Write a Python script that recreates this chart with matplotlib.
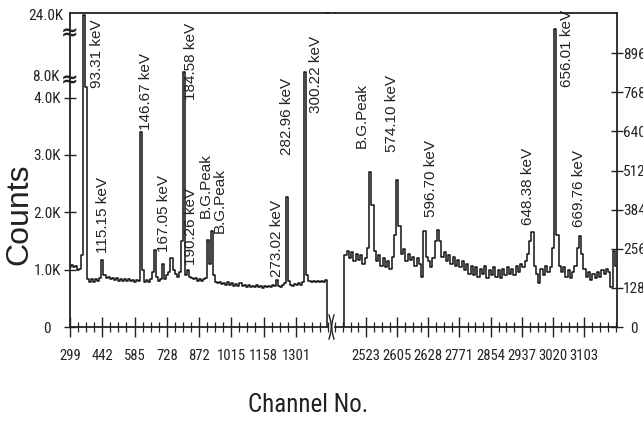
import numpy as np
import matplotlib
matplotlib.use("Agg")
import matplotlib.pyplot as plt
from matplotlib.lines import Line2D
from matplotlib import font_manager

# ---------------- data ----------------
# left segment: channels 299.. step 9, counts (left axis)
left_start, left_step = 299, 9
left_counts = [
    1050, 1080, 1040, 1070, 990, 1010, 1250, 24300, 6000, 830,
    790, 840, 780, 830, 800, 860, 1170, 900, 850, 880,
    830, 860, 820, 850, 810, 840, 800, 830, 810, 840,
    800, 820, 790, 820, 810, 3400, 1000, 790, 820, 780,
    830, 950, 1340, 880, 800, 830, 1100, 830, 900, 950,
    1200, 1000, 920, 880, 950, 1500, 9300, 900, 1000, 880,
    860, 830, 850, 810, 840, 800, 830, 850, 1520, 1100,
    1680, 900, 780, 760, 790, 750, 770, 740, 780, 730,
    760, 720, 750, 710, 760, 720, 740, 700, 730, 690,
    720, 700, 730, 690, 720, 680, 710, 690, 720, 700,
    730, 710, 820, 720, 700, 730, 760, 2270, 800, 740,
    720, 750, 730, 760, 740, 780, 9300, 900, 800, 780,
    810, 790, 800, 780, 810, 790, 820, 0, 0,
]
# right segment: channels 2462.. step 6, counts (right axis)
right_start, right_step = 2462, 6
right_counts = [
    0, 235, 250, 225, 245, 215, 240, 220, 235, 205,
    225, 260, 508, 400, 250, 215, 235, 200, 225, 195,
    215, 190, 230, 300, 482, 330, 240, 255, 215, 240,
    220, 230, 200, 225, 205, 165, 315, 230, 215, 195,
    225, 280, 318, 280, 230, 245, 215, 235, 205, 230,
    200, 220, 195, 215, 185, 205, 175, 200, 170, 195,
    165, 190, 175, 200, 160, 185, 170, 195, 165, 185,
    160, 190, 170, 195, 175, 190, 170, 200, 180, 205,
    195, 215, 240, 280, 312, 200, 175, 145, 190, 170,
    200, 180, 195, 260, 974, 300, 200, 180, 195, 165,
    185, 160, 180, 200, 260, 298, 240, 190, 165, 180,
    155, 175, 160, 180, 165, 185, 175, 190, 180, 130,
    250, 200,
]

left_ticks = [299, 442, 585, 728, 872, 1015, 1158, 1301]
left_tick_labels = ["299", "442", "585", "728", "872", "1015", "1158", "1301"]
right_ticks = [2523, 2605, 2688, 2771, 2854, 2937, 3020, 3103]
right_tick_labels = ["2523", "2605", "2628", "2771", "2854", "2937", "3020", "3103"]

left_yticks = [0, 1000, 2000, 3000, 4000]
left_ytick_labels = ["0", "1.0K", "2.0K", "3.0K", "4.0K"]
left_upper_ticks = [8000, 24000]
left_upper_labels = ["8.0K", "24.0K"]
right_yticks = [0, 128, 256, 384, 512, 640, 768, 896]

peak_labels = ["93.31 keV", "115.15 keV", "146.67 keV", "167.05 keV", "184.58 keV",
               "190.26 keV", "B.G.Peak", "B.G.Peak", "273.02 keV", "282.96 keV",
               "300.22 keV", "B.G.Peak", "574.10 keV", "596.70 keV", "648.38 keV",
               "656.01 keV", "669.76 keV"]

# ---------------- fonts ----------------
ttf = font_manager.fontManager.ttflist
names = {f.name for f in ttf}
narrow_props = None
for nm in ["Liberation Sans Narrow", "Arial Narrow", "Roboto Condensed", "Open Sans Condensed",
           "Noto Sans Condensed", "DejaVu Sans Condensed"]:
    if nm in names:
        narrow_props = dict(family=nm)
        break
if narrow_props is None:
    cands = [f for f in ttf if (f.stretch in ("condensed", "semi-condensed", "extra-condensed")
                                or "Condensed" in f.name or "Narrow" in f.name)
             and f.style == "normal" and f.weight in (400, "normal", "regular")
             and "Mono" not in f.name and "Serif" not in f.name]
    if cands:
        pref = sorted(cands, key=lambda f: (0 if "Sans" in f.name else 1, f.name))[0]
        narrow_props = dict(family=pref.name, stretch=pref.stretch)
NARROW_OK = narrow_props is not None
if narrow_props is None:
    narrow_props = dict(family="Liberation Sans")
reg = ["Liberation Sans", "DejaVu Sans"]
tick_fs = 10.5 if NARROW_OK else 9.5
ytick_fs = 11 if NARROW_OK else 9.5

# ---------------- layout ----------------
W, H = 643, 423
fig = plt.figure(figsize=(W / 100, H / 100), dpi=100)

def fx(px):
    return px / W

def fy(py):
    return 1 - py / H

y_top, y_bot = 13, 327
axL = fig.add_axes([fx(70), fy(y_bot), (328 - 70) / W, (y_bot - y_top) / H])
axR = fig.add_axes([fx(335), fy(y_bot), (617 - 335) / W, (y_bot - y_top) / H])

# broken y scale for the left part
YB = np.array([0, 4000, 8000, 24000, 40000], dtype=float)
YP = np.array([0, 229.5, 250, 311, 372], dtype=float)

def fwd(v):
    return np.interp(v, YB, YP)

def inv(p):
    return np.interp(p, YP, YB)

axL.set_yscale("function", functions=(fwd, inv))

chL = left_start + left_step * np.arange(len(left_counts))
chR = right_start + right_step * np.arange(len(right_counts))

axL.plot(chL, left_counts, color="#111111", lw=1.1, drawstyle="steps-mid")
axR.plot(chR, right_counts, color="#111111", lw=1.1, drawstyle="steps-mid")

px_per_chL = 32.3 / 143
px_per_chR = 32.2 / 83
axL.set_xlim(299, 299 + 258 / px_per_chL)
axL.set_ylim(0, 24790)
axR.set_xlim(2523 - 23 / px_per_chR, 3103 + 34 / px_per_chR)
axR.set_ylim(0, 314 / 0.3055)

for ax in (axL, axR):
    for s in ax.spines.values():
        s.set_linewidth(1.3)
        s.set_color("#222222")
axL.spines["right"].set_visible(False)
axR.spines["left"].set_visible(False)

def style_labels(labels, fs, ha=None):
    for lab in labels:
        lab.set_fontproperties(font_manager.FontProperties(size=fs, **narrow_props))
        if ha:
            lab.set_horizontalalignment(ha)

# x ticks
axL.set_xticks(left_ticks, left_tick_labels)
axL.set_xticks([t for t in np.arange(299, 1445, 143 / 4) if min(abs(t - np.array(left_ticks))) > 1], minor=True)
axR.set_xticks(right_ticks, right_tick_labels)
axR.set_xticks([t for t in np.arange(2440, 3195, 83 / 4) if min(abs(t - np.array(right_ticks))) > 1], minor=True)
for ax in (axL, axR):
    ax.tick_params(axis="x", which="major", direction="inout", length=14, width=1.0, pad=9,
                   colors="#222222")
    ax.tick_params(axis="x", which="minor", direction="inout", length=7, width=0.9, colors="#222222")
    style_labels(ax.get_xticklabels(), tick_fs)

# y ticks left
axL.set_yticks(left_yticks, left_ytick_labels)
axL.yaxis.set_minor_locator(matplotlib.ticker.NullLocator())
axL.tick_params(axis="y", direction="inout", length=9, width=1.0, pad=12, colors="#222222")
style_labels(axL.get_yticklabels(), ytick_fs, ha="center")
for v, t in zip(left_upper_ticks, left_upper_labels):
    axL.annotate(t, xy=(0, v), xycoords=("axes fraction", "data"), xytext=(-17.5, 0),
                 textcoords="offset points", ha="center", va="center",
                 fontproperties=font_manager.FontProperties(size=ytick_fs, **narrow_props),
                 color="#222222")

# y ticks right
axR.set_yticks(right_yticks, [str(v) for v in right_yticks])
axR.yaxis.tick_right()
axR.tick_params(axis="y", direction="inout", length=9, width=1.0, pad=8,
                colors="#222222", left=False, right=True)
style_labels(axR.get_yticklabels(), ytick_fs, ha="center")

# break marks on the left y axis
for yy in (33, 80):
    fig.text(fx(70), fy(yy), "\u2248", ha="center", va="center", fontsize=15,
             fontweight="bold", color="#222222")

# top line bridging the gap
fig.add_artist(Line2D([fx(327), fx(336)], [fy(y_top), fy(y_top)], transform=fig.transFigure,
                      color="#222222", lw=1.3))
# x-axis break curves
t = np.linspace(0, 1, 30)
for x0, sgn in ((329, 1), (334, -1)):
    xs = x0 + sgn * 2.2 * np.sin(np.pi * t)
    ys = 315 + 24 * t
    fig.add_artist(Line2D(fx(xs), fy(ys), transform=fig.transFigure, color="#222222", lw=1.0))

# peak labels (x centre px, y bottom px)
label_pos = [(97, 88), (103, 253), (146, 130), (164, 252), (191, 100),
             (191, 265), (206, 218), (220, 233), (277, 277), (287, 155),
             (316, 113), (362, 148), (392, 152), (431, 217), (528, 225),
             (567, 87), (579, 227)]
for txt, (px, py) in zip(peak_labels, label_pos):
    fig.text(fx(px), fy(py), txt, rotation=90, ha="center", va="bottom",
             fontsize=11, family=reg, color="#222222")

fig.text(fx(19), fy(214), "Counts", rotation=90, ha="center", va="center",
         fontsize=23, family=reg, color="#222222")
fig.text(fx(308), fy(405), "Channel No.", ha="center", va="center", color="#222222",
         fontproperties=font_manager.FontProperties(size=18 if NARROW_OK else 15, **narrow_props))

fig.savefig("out.png", dpi=100)
